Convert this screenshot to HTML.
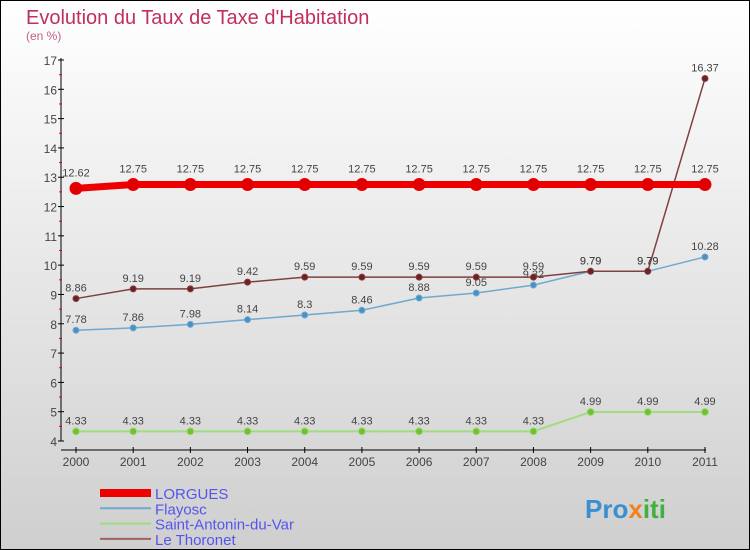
<!DOCTYPE html>
<html><head><meta charset="utf-8"><style>
body{margin:0}
#c{width:750px;height:550px;position:relative;box-sizing:border-box;border:1px solid #000;background:linear-gradient(#fff,#cfcfcf);font-family:"Liberation Sans",sans-serif;overflow:hidden}
</style></head><body>
<div id="c">
<svg id="s" width="750" height="550" style="position:absolute;left:-1px;top:-1px">
<text x="26" y="24" font-size="20" fill="#c0305a">Evolution du Taux de Taxe d'Habitation</text>
<text x="26" y="40" font-size="12" fill="#c0608a">(en %)</text>
<text x="585" y="518" font-size="26" font-weight="bold" fill="#3a8fd0">Pro<tspan fill="#f08020">x</tspan><tspan fill="#40b040">iti</tspan></text>
</svg>
</div>
<script>
const years=['2000','2001','2002','2003','2004','2005','2006','2007','2008','2009','2010','2011'];
const lorgues=[12.62,12.75,12.75,12.75,12.75,12.75,12.75,12.75,12.75,12.75,12.75,12.75];
const flayosc=[7.78,7.86,7.98,8.14,8.3,8.46,8.88,9.05,9.32,9.79,9.79,10.28];
const sav=[4.33,4.33,4.33,4.33,4.33,4.33,4.33,4.33,4.33,4.99,4.99,4.99];
const thoronet=[8.86,9.19,9.19,9.42,9.59,9.59,9.59,9.59,9.59,9.79,9.79,16.37];
const yTicks=[4,5,6,7,8,9,10,11,12,13,14,15,16,17];
const NS='http://www.w3.org/2000/svg',s=document.getElementById('s');
const X=i=>76+i*57.18, Y=v=>441-(v-4)*(381/13);
function el(t,a,name){const e=document.createElementNS(NS,t);for(const k in a)e.setAttribute(k,a[k]);


s.appendChild(e);return e;}
el('line',{x1:61,y1:58,x2:61,y2:441,stroke:'#000'},'y-axis');
el('line',{x1:61,y1:450,x2:706,y2:450,stroke:'#000'},'x-axis');
yTicks.forEach(v=>{el('line',{x1:58,x2:64,y1:Y(v),y2:Y(v),stroke:'#000'},'y-tick');
const t=el('text',{x:57,y:Y(v)+5,'font-size':12,fill:'#444','text-anchor':'end'},'y-tick-label');t.textContent=v;
if(v<17)el('line',{x1:59,x2:62,y1:Y(v+0.5),y2:Y(v+0.5),stroke:'#e00'},'y-minor-tick');});
years.forEach((y,i)=>{el('line',{x1:X(i),x2:X(i),y1:447,y2:453,stroke:'#000'},'x-tick');
const t=el('text',{x:X(i),y:466,'font-size':12,fill:'#444','text-anchor':'middle'},'x-tick-label');t.textContent=y;});
function series(d,col,w,r,dot,name,lab){
el('polyline',{points:d.map((v,i)=>X(i)+','+Y(v)).join(' '),fill:'none',stroke:col,'stroke-width':w},name+'-line');
d.forEach((v,i)=>{el('circle',{cx:X(i),cy:Y(v),r:r,fill:dot,stroke:col,'stroke-width':1},name+'-point');
const t=el('text',{x:X(i),y:Y(v)-(lab||8),'font-size':11,fill:'#444','text-anchor':'middle'},name+'-value');t.textContent=v;});}
series(sav,'#a0dc80',2,3.5,'#70c030','saint-antonin',7);
series(flayosc,'#70a8d0',1.5,3,'#4a90c8','flayosc',7);
series(thoronet,'#804040',1.5,3,'#702020','le-thoronet',7);
series(lorgues,'#ee0000',7,6,'#e00000','lorgues',12);
const leg=[['LORGUES','#ee0000',8],['Flayosc','#70a8d0',2],['Saint-Antonin-du-Var','#a0dc80',2],['Le Thoronet','#a06060',2]];
leg.forEach((l,i)=>{const y=493+i*15.3;
el('line',{x1:100,x2:151,y1:y,y2:y,stroke:l[1],'stroke-width':l[2]},'legend-swatch');
const t=el('text',{x:155,y:y+6,'font-size':15,fill:'#5555ee'},'legend-entry');t.textContent=l[0];});
</script>
</body></html>
